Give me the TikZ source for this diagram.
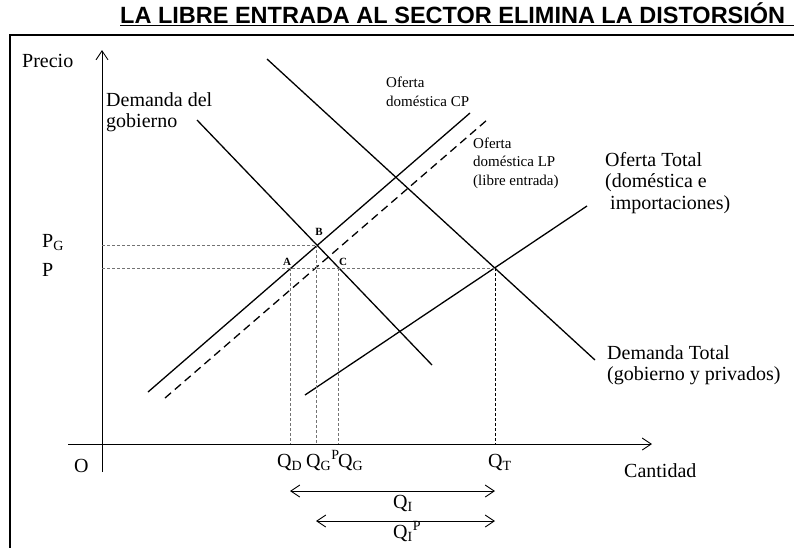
\documentclass[tikz,border=0pt]{standalone}
\usepackage{fontspec}
\setmainfont{Liberation Serif}
\newfontfamily\titlefont{Liberation Sans}
\usetikzlibrary{arrows.meta}

\newcommand{\grande}{\fontsize{20}{21.5}\selectfont}
\newcommand{\chica}{\fontsize{15}{18.5}\selectfont}

\tikzset{
  curva/.style={line width=1.3pt},
  guia/.style={dash pattern=on 3pt off 2pt, black!55, line width=.7pt},
  eje/.style={line width=.9pt, -{Straight Barb[length=9pt,width=12pt]}},
  doble/.style={line width=.9pt, {Straight Barb[length=9pt,width=12pt]}-{Straight Barb[length=9pt,width=12pt]}},
  rotulo/.style={anchor=west, inner sep=0pt, align=left},
  punto/.style={inner sep=0pt, font=\fontsize{11}{12}\selectfont\bfseries},
}

\begin{document}
\begin{tikzpicture}[x=1pt,y=-1pt]
    \useasboundingbox (0,0) rectangle (794,547);

    %% title and frame
    \node (titulo) at (120,23) [anchor=base west, inner sep=0pt,
      font=\titlefont\bfseries\fontsize{23.5}{26}\selectfont] {LA LIBRE ENTRADA AL SECTOR ELIMINA LA DISTORSIÓN};
    \draw[line width=1.3pt] (120,25.5) -- (800,25.5);
    \draw[line width=1.6pt] (10,560) -- (10,35) -- (800,35);

    %% axes
    \coordinate (O) at (102,444);
    \draw[eje] (102,472) -- (102,50);
    \draw[eje] (68,444) -- (652,444);
    \node (precio) at (22,67) [anchor=base west, inner sep=0pt, font=\grande] {Precio};
    \node (origen) at (74,472) [anchor=base west, inner sep=0pt, font=\grande] {O};
    \node (cantidad) at (624,477) [anchor=base west, inner sep=0pt, font=\grande] {Cantidad};

    %% curves
    \coordinate (gd1) at (197,120);  \coordinate (gd2) at (432,365);
    \coordinate (cp1) at (148,392);  \coordinate (cp2) at (470,113);
    \coordinate (lp1) at (165,398);  \coordinate (lp2) at (487,120);
    \coordinate (dt1) at (267,59);   \coordinate (dt2) at (595,360);
    \coordinate (ot1) at (305,395);  \coordinate (ot2) at (587,206);
    \draw[curva] (gd1) -- (gd2);
    \draw[curva] (cp1) -- (cp2);
    \draw[curva, dash pattern=on 8pt off 5pt] (lp1) -- (lp2);
    \draw[curva] (dt1) -- (dt2);
    \draw[curva] (ot1) -- (ot2);

    %% points
    \coordinate (A) at (290,268);
    \coordinate (B) at (316,245);
    \coordinate (C) at (338,268);
    \coordinate (T) at (495,268);
    \node (la) at (287,262) [punto] {A};
    \node (lb) at (319,232) [punto] {B};
    \node (lc) at (343,262) [punto] {C};

    %% guide lines
    \draw[guia] (O |- B) -- (B);
    \draw[guia] (O |- T) -- (T);
    \draw[guia] (A) -- (A |- O);
    \draw[guia] (B) -- (B |- O);
    \draw[guia] (C) -- (C |- O);
    \draw[guia, black] (T) -- (T |- O);

    %% prices
    \node (pg) at (42,247) [anchor=base west, inner sep=0pt, font=\grande] {P\textsubscript{G}};
    \node (p) at (42,276) [anchor=base west, inner sep=0pt, font=\grande] {P};

    %% quantities
    \node (qd) at (277,467) [anchor=base west, inner sep=0pt, font=\grande] {Q\textsubscript{D}};
    \node (qgp) at (306,467) [anchor=base west, inner sep=0pt, font=\grande] {Q\textsubscript{G}\textsuperscript{P}};
    \node (qg) at (338,467) [anchor=base west, inner sep=0pt, font=\grande] {Q\textsubscript{G}};
    \node (qt) at (488,467) [anchor=base west, inner sep=0pt, font=\grande] {Q\textsubscript{T}};

    %% imports
    \coordinate (qi1) at (290,491);  \coordinate (qi2) at (495,491);
    \coordinate (qp1) at (316,521);  \coordinate (qp2) at (495,521);
    \draw[doble] (qi1) -- (qi2);
    \draw[doble] (qp1) -- (qp2);
    \node (qi) at (393,508) [anchor=base west, inner sep=0pt, font=\grande] {Q\textsubscript{I}};
    \node (qip) at (393,538) [anchor=base west, inner sep=0pt, font=\grande] {Q\textsubscript{I}\textsuperscript{P}};

    %% curve labels
    \node (tgd) at (106,112) [rotulo, font=\grande] {Demanda del\\gobierno};
    \node (tcp) at (386,92) [rotulo, font=\chica] {Oferta\\doméstica CP};
    \node (tlp) at (473,163) [rotulo, font=\chica] {Oferta\\doméstica LP\\(libre entrada)};
    \node (tot) at (605,183) [rotulo, font=\grande] {Oferta Total\\(doméstica e\\\hspace{.25em}importaciones)};
    \node (tdt) at (607,365) [rotulo, font=\grande] {Demanda Total\\(gobierno y privados)};
\end{tikzpicture}
\end{document}
